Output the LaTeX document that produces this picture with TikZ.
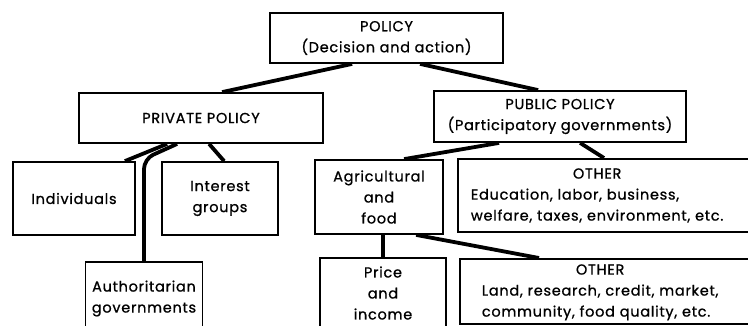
\documentclass[tikz,border=0pt]{standalone}
\usepackage{fontspec}
\setmainfont{Poppins}[LetterSpace=5, FakeBold=0.9]

\begin{document}
\begin{tikzpicture}[x=1pt,y=-1pt]

\tikzset{
    casella/.style={
        draw,
        line width=1.8pt,
        align=center,
        inner sep=0pt,
        font=\fontsize{14.5}{21}\selectfont
    }
}

\tikzset{
    ramo/.style={
        line width=3.8pt
    }
}

\useasboundingbox (0,0) rectangle (748,325);
\clip (0,0) rectangle (748,325);

% caselle
\node[casella, minimum width=233, minimum height=50] (policy) at (386.5,38)
{POLICY\\(Decision and action)};
\node[casella, minimum width=244, minimum height=50] (private) at (201,118)
{PRIVATE POLICY};
\node[casella, minimum width=252, minimum height=51] (public) at (560,116.5)
{PUBLIC POLICY\\(Participatory governments)};

\node[casella, minimum width=122, minimum height=73] (indiv) at (74,198.5)
{Individuals};
\node[casella, minimum width=116, minimum height=73] (interest) at (220,198.5)
{Interest\\groups};
\node[casella, minimum width=117, minimum height=73] (author) at (144,298.5)
{Authoritarian\\governments};

\node[casella, minimum width=128, minimum height=74] (agri) at (379,197)
{Agricultural\\and\\food};
\node[casella, anchor=north west, minimum height=73, text width=320, inner xsep=13pt, align=left] (other) at (457,158)
{\begin{tabular}{@{}l@{}}\multicolumn{1}{@{}c@{}}{OTHER}\\Education, labor, business,\\welfare, taxes, environment, etc.\end{tabular}};

\node[casella, minimum width=126, minimum height=70] (price) at (383,293)
{Price\\and\\income};
\node[casella, anchor=north west, minimum height=65, text width=320, inner xsep=22pt, align=left] (otherag) at (459,258)
{\begin{tabular}{@{}l@{}}\multicolumn{1}{@{}c@{}}{OTHER}\\Land, research, credit, market,\\community, food quality, etc.\end{tabular}};

% rami
\draw[ramo] ([xshift=83pt]policy.south west) -- ([xshift=144pt]private.north west);
\draw[ramo] ([xshift=151pt]policy.south west) -- ([xshift=105pt]public.north west);

\draw[ramo] ([xshift=89pt]private.south west) -- ([xshift=-11pt]indiv.north east);
\path (author.north |- private.south) ++(0,15) coordinate (gomito);
\draw[ramo, rounded corners=10pt] ([xshift=99pt]private.south west) -- (gomito) -- (author.north);
\draw[ramo] ([xshift=131pt]private.south west) -- ([xshift=63pt]interest.north west);

\draw[ramo] ([xshift=66pt]public.south west) -- ([xshift=90pt]agri.north west);
\draw[ramo] ([xshift=147pt]public.south west) -- ([xshift=147pt]other.north west);

\draw[ramo] ([xshift=69pt]agri.south west) -- ([xshift=64pt]price.north west);
\draw[ramo] ([xshift=102pt]agri.south west) -- ([xshift=80pt]otherag.north west);

\end{tikzpicture}
\end{document}
